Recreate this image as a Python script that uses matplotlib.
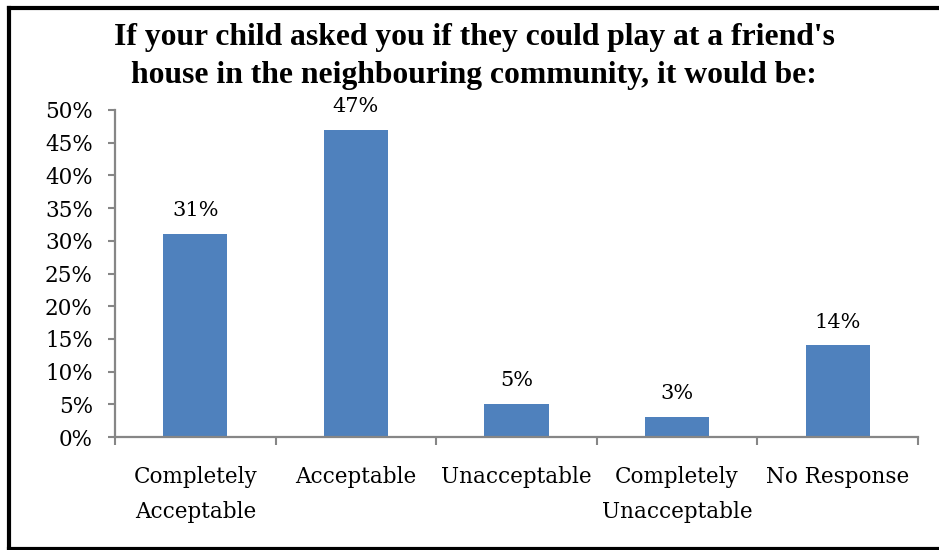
import matplotlib
matplotlib.use("Agg")
import matplotlib.pyplot as plt
from matplotlib.lines import Line2D
from matplotlib.ticker import FuncFormatter

categories = ["Completely\nAcceptable", "Acceptable", "Unacceptable",
              "Completely\nUnacceptable", "No Response"]
values = [0.31, 0.47, 0.05, 0.03, 0.14]
y_ticks = [0.0, 0.05, 0.10, 0.15, 0.20, 0.25, 0.30, 0.35, 0.40, 0.45, 0.50]
title_lines = ["If your child asked you if they could play at a friend's",
               "house in the neighbouring community, it would be:"]

bar_color = "#4F81BD"
axis_color = "#868686"
serif = ["DejaVu Serif"]

fig = plt.figure(figsize=(9.39, 5.5), dpi=100)
ax = fig.add_axes([115 / 939, 1 - 437 / 550, (918 - 115) / 939, (437 - 110) / 550])

x = range(len(categories))
bars = ax.bar(x, values, width=0.4, color=bar_color, zorder=2)

for rect, v in zip(bars, values):
    ax.annotate(f"{v * 100:.0f}%", (rect.get_x() + rect.get_width() / 2, v),
                xytext=(0, 10), textcoords="offset points", ha="center", va="bottom",
                fontsize=15, family=serif, color="#000000")

ax.set_xlim(-0.5, len(categories) - 0.5)
ax.set_ylim(0, 0.5)
ax.set_yticks(y_ticks)
ax.yaxis.set_major_formatter(FuncFormatter(lambda v, _: f"{v * 100:.0f}%"))
ax.set_xticks([i - 0.5 for i in range(len(categories) + 1)], minor=False)
ax.set_xticklabels([])
ax.set_xticks(list(x), minor=True)
ax.set_xticklabels(categories, minor=True)

for lbl in ax.get_yticklabels() + ax.get_xticklabels(minor=True):
    lbl.set_family(serif)
    lbl.set_fontsize(15.5)
for lbl in ax.get_xticklabels(minor=True):
    lbl.set_linespacing(1.75)

ax.tick_params(axis="x", which="major", direction="out", length=6, width=1.5, color=axis_color)
ax.tick_params(axis="x", which="minor", length=0, pad=21)
ax.tick_params(axis="y", direction="out", length=5, width=1.5, color=axis_color, pad=11)

for side in ("top", "right"):
    ax.spines[side].set_visible(False)
for side in ("left", "bottom"):
    ax.spines[side].set_color(axis_color)
    ax.spines[side].set_linewidth(1.6)

for line, y_px in zip(title_lines, (38, 76)):
    fig.text(474 / 939, 1 - y_px / 550, line, ha="center", va="center",
             fontsize=22.8, fontweight="bold", family=["Liberation Serif"])

# outer frame
fig.add_artist(Line2D([9 / 939, 1.0], [1 - 8 / 550, 1 - 8 / 550], transform=fig.transFigure,
                      color="black", linewidth=3))
fig.add_artist(Line2D([9 / 939, 9 / 939], [1 - 8 / 550, 1 - 549 / 550], transform=fig.transFigure,
                      color="black", linewidth=3))
fig.add_artist(Line2D([9 / 939, 1.0], [1 - 549 / 550, 1 - 549 / 550], transform=fig.transFigure,
                      color="black", linewidth=3))

fig.savefig("out.png", dpi=100)
